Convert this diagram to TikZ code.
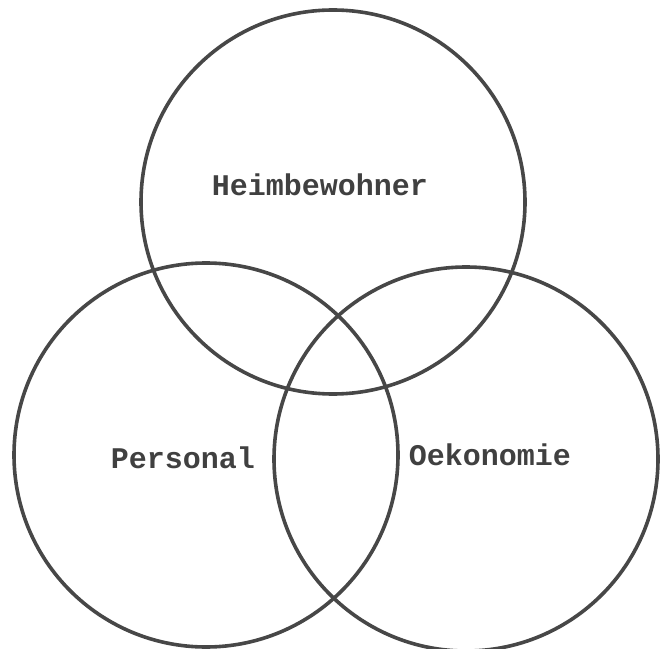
\documentclass[tikz,border=0pt]{standalone}
\usepackage{fontspec}
\setmonofont{Liberation Mono}
\usetikzlibrary{positioning}
\tikzset{
    setcircle/.style={circle, draw=black!72, line width=2.7pt, inner sep=0pt, minimum size=288pt},
    setlabel/.style={font=\ttfamily\bfseries\fontsize{22.5}{26}\selectfont, text=black!75}
}
\begin{document}
\begin{tikzpicture}[x=0.75pt, y=-0.75pt]
    \useasboundingbox (0,0) rectangle (668,649);
    % the three sets
    \node[setcircle] (heim) at (333,202) {};
    \node[setcircle] (pers) at (206,455) {};
    \node[setcircle] (oeko) at (466,459) {};
    % names
    \node[setlabel] (heimlabel) at (320,185) {Heimbewohner};
    \node[setlabel] (perslabel) at (183,458) {Personal};
    \node[setlabel] (oekolabel) at (490,455) {Oekonomie};
\end{tikzpicture}
\end{document}
